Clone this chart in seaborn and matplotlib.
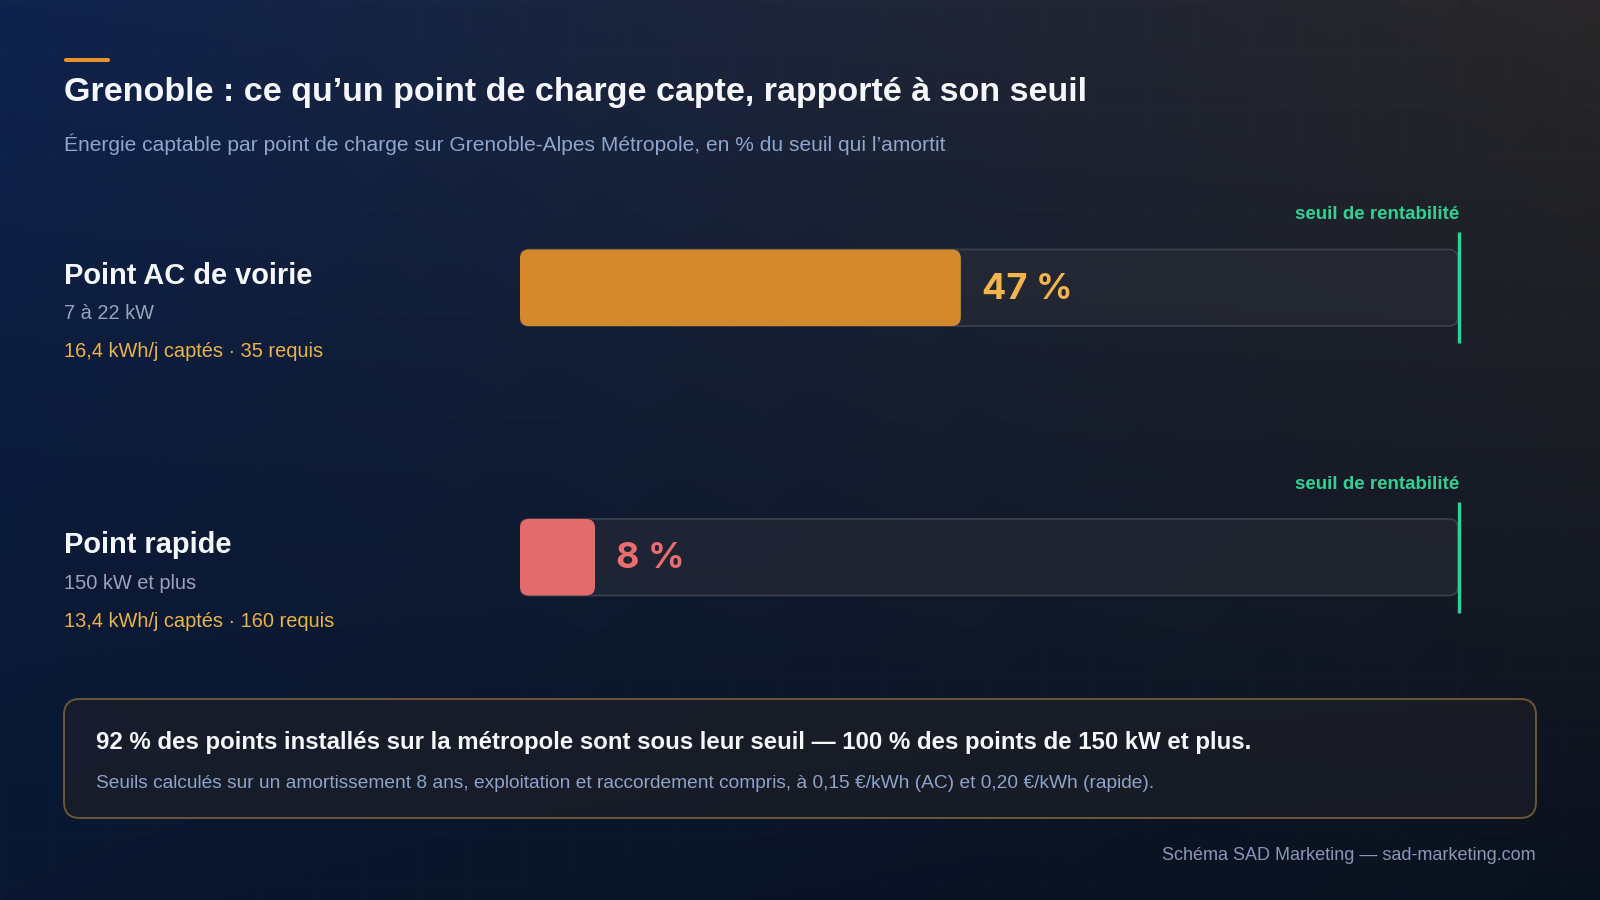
import numpy as np
import pandas as pd
import seaborn as sns
import matplotlib.pyplot as plt
from matplotlib.patches import FancyBboxPatch, Rectangle

# data
categories = ["Point AC de voirie", "Point rapide"]
power_ranges = ["7 à 22 kW", "150 kW et plus"]
captured_kwh = [16.4, 13.4]
required_kwh = [35, 160]
share_of_threshold = [47, 8]
threshold = 100
bar_colors = ["#d4892c", "#e36b6e"]
label_colors = ["#f2b44c", "#ea6d70"]

title = "Grenoble : ce qu’un point de charge capte, rapporté à son seuil"
subtitle = "Énergie captable par point de charge sur Grenoble-Alpes Métropole, en % du seuil qui l’amortit"
box_head = "92 % des points installés sur la métropole sont sous leur seuil — 100 % des points de 150 kW et plus."
box_note = "Seuils calculés sur un amortissement 8 ans, exploitation et raccordement compris, à 0,15 €/kWh (AC) et 0,20 €/kWh (rapide)."
footer = "Schéma SAD Marketing — sad-marketing.com"

GREEN = "#33d093"
W, H = 1600, 900

sns.set_theme(style='white')
plt.rcParams['font.family'] = ['Liberation Sans', 'DejaVu Sans']


def fmt(v):
    return f"{v:g}".replace(".", ",")


def round_patches(ax, patches, radius_px, **style):
    # seaborn draws square bars: swap them for rounded ones with the same geometry
    bb = ax.get_window_extent()
    x0, x1 = ax.get_xlim()
    y0, y1 = ax.get_ylim()
    px_x = bb.width / abs(x1 - x0)
    px_y = bb.height / abs(y1 - y0)
    for p in patches:
        fb = FancyBboxPatch((p.get_x(), p.get_y()), p.get_width(), p.get_height(),
                            boxstyle=f"round,pad=0,rounding_size={radius_px / px_x}",
                            mutation_aspect=px_x / px_y,
                            facecolor=style.get('facecolor', p.get_facecolor()),
                            edgecolor=style.get('edgecolor', 'none'),
                            linewidth=style.get('linewidth', 0),
                            zorder=style.get('zorder', 2))
        p.remove()
        ax.add_patch(fb)


fig = plt.figure(figsize=(16, 9), dpi=100)

# background
bg = fig.add_axes([0, 0, 1, 1])
bg.set_xlim(0, W)
bg.set_ylim(H, 0)
bg.axis('off')
ys = [0, 450, 900]
left_col = np.array([[15, 35, 78], [11, 27, 60], [10, 23, 48]]) / 255
right_col = np.array([[41, 39, 40], [25, 28, 35], [10, 17, 30]]) / 255
yy = np.arange(H)
L = np.stack([np.interp(yy, ys, left_col[:, c]) for c in range(3)], axis=1)
R = np.stack([np.interp(yy, ys, right_col[:, c]) for c in range(3)], axis=1)
s = (np.arange(W) / W) ** 0.9
img = L[:, None, :] * (1 - s[None, :, None]) + R[:, None, :] * s[None, :, None]
bg.imshow(img, extent=(0, W, H, 0), aspect='auto', zorder=0)
for gx in range(0, W, 52):
    bg.axvline(gx, color='white', alpha=0.012, lw=1, zorder=0.5)
for gy in range(0, H, 52):
    bg.axhline(gy, color='white', alpha=0.012, lw=1, zorder=0.5)

# header
bg.add_patch(FancyBboxPatch((64, 58), 46, 4, boxstyle="round,pad=0,rounding_size=2",
                            facecolor="#e8922e", edgecolor='none', zorder=2))
bg.text(64, 93, title, fontsize=24.5, fontweight='bold', color='#f4f6fa', va='center', zorder=3)
bg.text(64, 144, subtitle, fontsize=15.1, color='#8ea5cc', va='center', zorder=3)

# bars
ax = fig.add_axes([520 / W, 1 - 692 / H, 938 / W, 539 / H])
ax.set_facecolor('none')
df = pd.DataFrame({"category": categories, "share": share_of_threshold,
                   "track": [threshold] * len(categories)})
sns.barplot(data=df, x="track", y="category", orient='h', width=0.284,
            color="#262a34", saturation=1, ax=ax)
fig.canvas.draw()
round_patches(ax, list(ax.patches), 9, facecolor=(0.17, 0.18, 0.22, 0.55),
              edgecolor="#3a3f4b", linewidth=1.3, zorder=1)
before = set(ax.patches)
sns.barplot(data=df, x="share", y="category", hue="category", palette=bar_colors,
            orient='h', width=0.284, saturation=1, legend=False, ax=ax)
ax.set_xlim(0, threshold)
ax.set_ylim(len(categories) - 0.5, -0.5)
fig.canvas.draw()
round_patches(ax, [p for p in ax.patches if p not in before], 9, zorder=2)
ax.axis('off')

for i, v in enumerate(share_of_threshold):
    ax.annotate(f"{v} %", xy=(v, i), xytext=(15, -1), textcoords='offset points',
                va='center', ha='left', fontsize=26, fontweight='bold',
                color=label_colors[i], family=['Inter', 'DejaVu Sans'], zorder=4)
    ax.vlines(threshold + 0.15, i - 0.206, i + 0.206, color=GREEN, lw=2.4,
              zorder=4, clip_on=False)
    ax.text(threshold + 0.15, i - 0.27, "seuil de rentabilité", ha='right', va='center',
            fontsize=13.5, fontweight='bold', color=GREEN, zorder=4)

    # left-hand labels, anchored on the row centre
    disp = ax.transData.transform((0, i))
    cy = bg.transData.inverted().transform(disp)[1]
    bg.text(64, cy - 12, categories[i], fontsize=20.9, fontweight='bold', color='#f4f6fa',
            va='center', zorder=3)
    bg.text(64, cy + 26, power_ranges[i], fontsize=14.4, color='#98a4b9', va='center', zorder=3)
    bg.text(64, cy + 64, f"{fmt(captured_kwh[i])} kWh/j captés · {required_kwh[i]} requis",
            fontsize=14.4, color='#e9b34d', va='center', zorder=3)

# summary box
bg.add_patch(FancyBboxPatch((64, 699), 1472, 119, boxstyle="round,pad=0,rounding_size=16",
                            facecolor=(0.13, 0.13, 0.15, 0.55), edgecolor="#6b5637",
                            linewidth=1.4, zorder=2))
bg.text(96, 743, box_head, fontsize=17.3, fontweight='bold', color='#f4f6fa', va='center', zorder=3)
bg.text(96, 784, box_note, fontsize=13.8, color='#8ea3c9', va='center', zorder=3)

bg.text(1536, 856, footer, fontsize=13.0, color='#8797b6', ha='right', va='center', zorder=3)

fig.savefig("out.png", dpi=100)
